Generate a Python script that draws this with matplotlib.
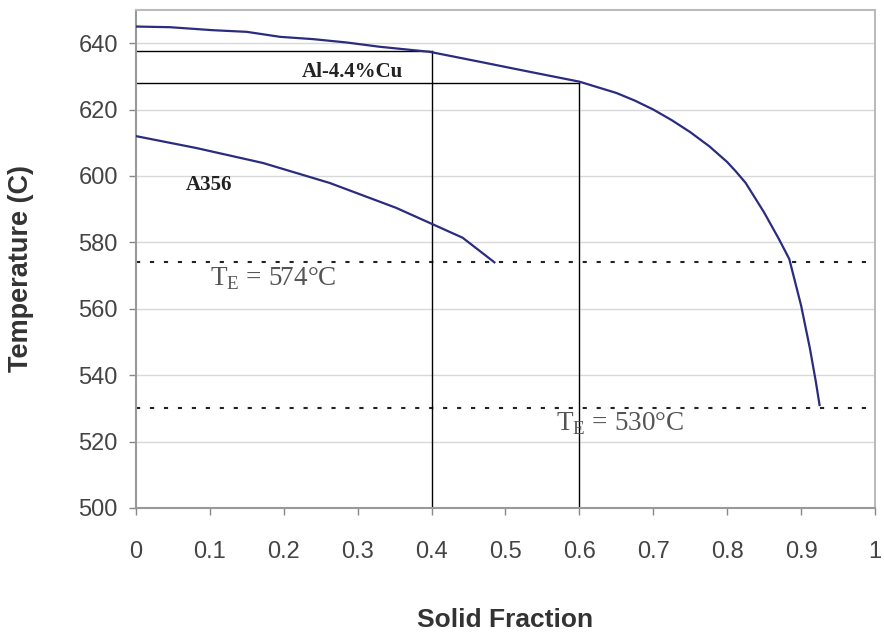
import matplotlib.pyplot as plt

# Al-4.4%Cu solidification curve (solid fraction vs temperature)
al_cu_fs = [0.0, 0.046, 0.104, 0.15, 0.195, 0.24, 0.285, 0.33, 0.397, 0.465,
            0.532, 0.6, 0.65, 0.675, 0.7, 0.725, 0.75, 0.776, 0.8, 0.812,
            0.825, 0.85, 0.87, 0.884, 0.9, 0.912, 0.92, 0.925]
al_cu_temp = [645.0, 644.8, 643.9, 643.4, 641.9, 641.2, 640.2, 638.9, 637.4, 634.4,
              631.4, 628.4, 625.0, 622.7, 620.0, 616.8, 613.2, 608.9, 604.2, 601.3,
              597.9, 589.0, 581.0, 575.0, 561.0, 548.0, 538.0, 531.0]

# A356 curve
a356_fs = [0.0, 0.082, 0.172, 0.262, 0.352, 0.397, 0.442, 0.485]
a356_temp = [612.0, 608.4, 603.9, 597.9, 590.4, 585.9, 581.4, 574.0]

# reference read-offs at fs = 0.4 and 0.6
ref_fs = [0.4, 0.6]
ref_temp = [637.5, 628.0]

# eutectic temperatures
eutectic = [574, 530]

yticks = [500, 520, 540, 560, 580, 600, 620, 640]
xticks = [0, 0.1, 0.2, 0.3, 0.4, 0.5, 0.6, 0.7, 0.8, 0.9, 1]
xticklabels = ['0', '0.1', '0.2', '0.3', '0.4', '0.5', '0.6', '0.7', '0.8', '0.9', '1']

plt.rcParams['font.family'] = ['Liberation Sans', 'DejaVu Sans']

fig = plt.figure(figsize=(8.84, 6.41), dpi=100)
ax = fig.add_axes([0.1538, 0.2075, 0.836, 0.777])

ax.set_xlim(0, 1)
ax.set_ylim(500, 650)

for t in yticks[1:]:
    ax.axhline(t, color='#d8d8d8', lw=1.0, zorder=0)

for t in eutectic:
    ax.axhline(t, color='#222222', lw=1.5, linestyle=(0, (2, 4.7)), zorder=1)

for f, t in zip(ref_fs, ref_temp):
    ax.plot([0, f], [t, t], color='black', lw=1.0, zorder=2)
    ax.plot([f, f], [500, t], color='black', lw=1.0, zorder=2)

line_color = '#2b2b80'
ax.plot(al_cu_fs, al_cu_temp, color=line_color, lw=1.6, zorder=3)
ax.plot(a356_fs, a356_temp, color=line_color, lw=1.6, zorder=3)

serif = ['Liberation Serif', 'DejaVu Serif']
ax.text(0.293, 628.2, 'Al-4.4%Cu', family=serif, fontweight='bold', fontsize=15,
        ha='center', va='bottom', color='#222222')
ax.text(0.068, 597.4, 'A356', family=serif, fontweight='bold', fontsize=15,
        ha='left', va='center', color='#222222')
ax.text(0.1, 569.0, r'T$_{\mathregular{E}}$ = 574°C', family=serif, fontsize=19.5,
        ha='left', va='center', color='#555555')
ax.text(0.568, 525.4, r'T$_{\mathregular{E}}$ = 530°C', family=serif, fontsize=19.5,
        ha='left', va='center', color='#555555')

ax.set_xticks(xticks)
ax.set_xticklabels(xticklabels)
ax.set_yticks(yticks)
ax.tick_params(axis='both', direction='out', length=5, width=1, color='#888888',
               labelsize=17, labelcolor='#444444')
ax.tick_params(axis='x', pad=19)
ax.tick_params(axis='y', pad=8)

for side in ['left', 'bottom', 'right', 'top']:
    ax.spines[side].set_color('#999999')
    ax.spines[side].set_linewidth(1.5)
ax.spines['top'].set_color('#bbbbbb')
ax.spines['right'].set_color('#bbbbbb')

ax.set_xlabel('Solid Fraction', fontsize=19, fontweight='bold', color='#333333', labelpad=32)
ax.set_ylabel('Temperature (C)', fontsize=19.5, fontweight='bold', color='#333333')
ax.yaxis.set_label_coords(-0.138, 0.48)

fig.savefig('out.png', dpi=100)
